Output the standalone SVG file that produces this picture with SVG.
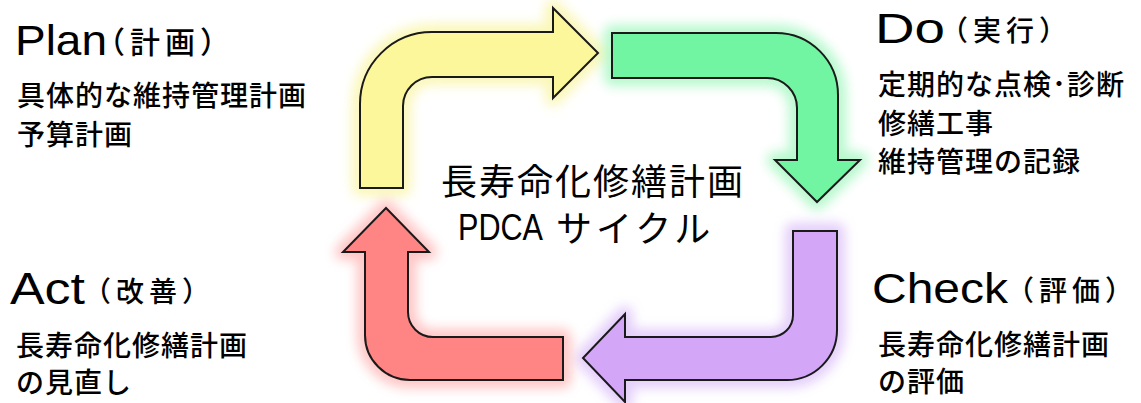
<svg xmlns="http://www.w3.org/2000/svg" width="1141" height="403" viewBox="0 0 1141 403">
<style>
.t{font-family:"Noto Sans CJK JP","Noto Sans",sans-serif;fill:#000;}
.lat{font-family:"Liberation Sans","Noto Sans",sans-serif;font-size:42px;font-weight:400;}
.par{font-size:28px;letter-spacing:5px;font-weight:500;}
.body{font-size:28px;letter-spacing:1px;font-weight:500;}
.ctr{font-size:36px;letter-spacing:2px;font-weight:400;}
.arrow{stroke:#1a1a1a;stroke-width:2;stroke-linejoin:miter;}
.glow{fill:none;stroke-width:16;stroke-linejoin:round;opacity:0.5;filter:url(#blur);}
</style>
<defs>
<filter id="blur" x="-20%" y="-20%" width="140%" height="140%"><feGaussianBlur stdDeviation="6"/></filter>
<path id="pY" d="M360,188 L360,104 A72,72 0 0 1 432,32 L553,32 L553,8 L598,53 L553,98 L553,77 L432,77 A29,29 0 0 0 403,106 L403,188 Z"/>
<path id="pG" d="M612,33 L776,33 A62,62 0 0 1 838,95 L838,160 L860,160 L817,202 L775,160 L797,160 L797,108 A30,30 0 0 0 767,78 L612,78 Z"/>
<path id="pP" d="M793,231 L837,231 L837,330 A50,50 0 0 1 787,380 L625,380 L625,402 L583,358 L625,314 L625,337 L771,337 A22,22 0 0 0 793,315 Z"/>
<path id="pR" d="M563,337 L563,380 L410,380 A45,45 0 0 1 365,335 L365,252 L343,252 L386,208 L429,252 L408,252 L408,312 A25,25 0 0 0 433,337 Z"/>
</defs>
<rect width="1141" height="403" fill="#fff"/>
<g id="connectors">
<use href="#pY" class="glow" stroke="#f6ef70" fill="#f6ef70"/>
<use href="#pG" class="glow" stroke="#6cf29a" fill="#6cf29a"/>
<use href="#pP" class="glow" stroke="#c99cf5" fill="#c99cf5"/>
<use href="#pR" class="glow" stroke="#ff8a8a" fill="#ff8a8a"/>
<use href="#pY" class="arrow" fill="#fbf79a"/>
<use href="#pG" class="arrow" fill="#72f5a2"/>
<use href="#pP" class="arrow" fill="#d3a6f8"/>
<use href="#pR" class="arrow" fill="#ff8585"/>
</g>
<g id="center">
<text class="t ctr" x="441" y="195">長寿命化修繕計画</text>
<text class="t lat" x="458" y="240" style="font-size:37px" textLength="85" lengthAdjust="spacingAndGlyphs">PDCA</text>
<text class="t ctr" x="556" y="242" style="font-size:36px;letter-spacing:4px">サイクル</text>
</g>
<g id="plan">
<text class="t lat" x="15" y="55" textLength="92" lengthAdjust="spacingAndGlyphs">Plan</text>
<text class="t par" x="95" y="53" style="font-size:30px;letter-spacing:5px">（計画）</text>
<text class="t body" x="17" y="106">具体的な維持管理計画</text>
<text class="t body" x="17" y="145">予算計画</text>
</g>
<g id="do">
<text class="t lat" x="875" y="43" textLength="70" lengthAdjust="spacingAndGlyphs">Do</text>
<text class="t par" x="940" y="41">（実行）</text>
<text class="t body" x="878" y="95">定期的な点検･診断</text>
<text class="t body" x="878" y="134">修繕工事</text>
<text class="t body" x="878" y="172">維持管理の記録</text>
</g>
<g id="check">
<text class="t lat" x="872" y="303" textLength="136" lengthAdjust="spacingAndGlyphs">Check</text>
<text class="t par" x="1006" y="301">（評価）</text>
<text class="t body" x="878" y="355">長寿命化修繕計画</text>
<text class="t body" x="878" y="392">の評価</text>
</g>
<g id="act">
<text class="t lat" x="10" y="304" style="font-size:44px" textLength="75" lengthAdjust="spacingAndGlyphs">Act</text>
<text class="t par" x="83" y="302">（改善）</text>
<text class="t body" x="16" y="356">長寿命化修繕計画</text>
<text class="t body" x="16" y="393">の見直し</text>
</g>
</svg>
